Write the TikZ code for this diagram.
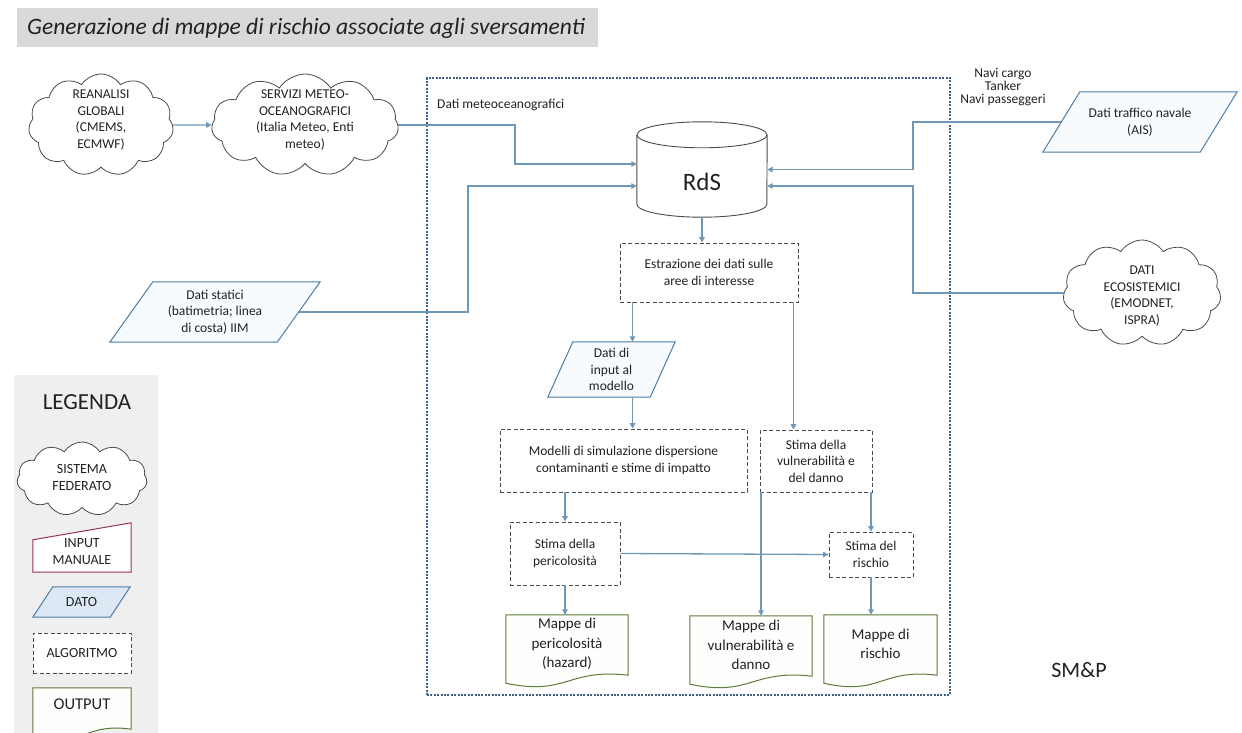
\documentclass[tikz,border=0pt]{standalone}
\usepackage{fontspec}
\setmainfont{Carlito}
\usetikzlibrary{shapes.symbols,arrows.meta,calc}

\definecolor{arrowblue}{HTML}{6F98B8}
\definecolor{frameblue}{HTML}{3E6189}
\definecolor{datoblue}{HTML}{4D7DA6}
\definecolor{datofill}{HTML}{F8FBFE}
\definecolor{datofilldark}{HTML}{DCE8F4}
\definecolor{algogrey}{HTML}{4A4A4A}
\definecolor{outgreen}{HTML}{5E7A3C}
\definecolor{outfill}{HTML}{FEFEFC}
\definecolor{manred}{HTML}{9E3350}
\definecolor{titlegrey}{HTML}{D9D9D9}
\definecolor{legendgrey}{HTML}{EFEFEF}
\definecolor{inkgrey}{HTML}{222222}

\tikzset{
  arr/.style={draw=arrowblue, line width=1.3pt, -{Triangle[length=5.5pt,width=5.5pt]}},
  algo/.style={draw=algogrey, line width=0.9pt, dash pattern=on 4pt off 2.5pt,
    fill=white, align=center, inner sep=0pt},
  cloudbox/.style={cloud, cloud puffs=11, cloud puff arc=115, draw=algogrey,
    line width=0.8pt, fill=white, inner sep=0pt},
  txt/.style={align=center, inner sep=0pt},
  datoline/.style={draw=datoblue, line width=1pt, fill=datofill},
  docline/.style={draw=outgreen, line width=1pt, fill=outfill},
  cyl/.style={draw=algogrey, line width=0.9pt},
  framebox/.style={draw=frameblue, dash pattern=on 2pt off 1.4pt, line width=2pt,
    inner sep=0pt},
  doctext/.style={align=center, inner sep=0pt, font=\fontsize{15}{19.5}\selectfont},
  legtext/.style={align=center, inner sep=0pt, font=\fontsize{14}{17}\selectfont},
}

% parallelogram for data items: name, centre, width, height, slant, text
\newcommand\datoshape[7][datofill]{%
  \node[minimum width=#4pt, minimum height=#5pt, inner sep=0pt] (#2) at (#3) {};
  \draw[datoline, fill=#1] (#2.south west) -- ($(#2.north west)+(#6,0)$)
    -- (#2.north east) -- ($(#2.south east)+(-#6,0)$) -- cycle;
  \coordinate (#2-l) at ($(#2.west)+(#6/2,0)$);
  \coordinate (#2-r) at ($(#2.east)+(-#6/2,0)$);
  \node[txt] (#2-t) at (#2.center) {#7};
}

% document shape with wavy bottom: name, centre, width, height
\newcommand\outdoc[4]{%
  \node[minimum width=#3pt, minimum height=#4pt, inner sep=0pt] (#1) at (#2) {};
  \draw[docline] (#1.north west) -- (#1.north east) -- ($(#1.south east)+(0,-11)$)
    .. controls ($(#1.south)+(0,-18)$) and ($(#1.south)+(0,10)$) ..
    ($(#1.south west)+(0,-3)$) -- cycle;
}

\begin{document}
\begin{tikzpicture}[x=1pt, y=-1pt, font=\fontsize{13.5}{16.5}\selectfont, text=inkgrey]
\useasboundingbox (0,0) rectangle (1242,733);
\fill[white] (0,0) rectangle (1242,733);

% title bar
\node[fill=titlegrey, minimum width=581pt, minimum height=39pt, inner sep=0pt] (titlebar) at (307.5,28) {};
\node[anchor=west, inner sep=0pt, font=\fontsize{23.5}{27}\selectfont\itshape] (title) at (27,28)
  {Generazione di mappe di rischio associate agli sversamenti};

% dotted system frame
\node[framebox, minimum width=523pt, minimum height=617pt] (frame) at (688.5,386.5) {};
\node[anchor=west, inner sep=0pt] (meteolabel) at (437,105) {Dati meteoceanografici};

% external federated systems
\node[cloudbox, minimum width=145pt, minimum height=102pt] (reanal) at (101,125) {};
\node[txt] (reanal-t) at (101,120) {REANALISI\\GLOBALI\\(CMEMS,\\ECMWF)};
\node[cloudbox, minimum width=187pt, minimum height=102pt] (meteo) at (305,125) {};
\node[txt] (meteo-t) at (305,120) {SERVIZI METEO-\\OCEANOGRAFICI\\(Italia Meteo, Enti\\meteo)};
\node[cloudbox, minimum width=158pt, minimum height=106pt] (eco) at (1142,293) {};
\node[txt] (eco-t) at (1142,296) {DATI\\ECOSISTEMICI\\(EMODNET,\\ISPRA)};

% data inputs
\datoshape{static}{215,312}{210}{60}{43}{Dati statici\\(batimetria; linea\\di costa) IIM}
\datoshape{ais}{1140,122}{194}{60}{37}{Dati traffico navale\\(AIS)}
\node[txt, font=\fontsize{13.5}{13}\selectfont] (navi) at (1003,87) {Navi cargo\\Tanker\\Navi passeggeri};

% central repository
\node[minimum width=130pt, minimum height=95pt, inner sep=0pt] (rds) at (702,169.5) {};
\fill[white] ($(rds.north west)+(0,13)$) -- ($(rds.south west)+(0,-13)$)
  arc[start angle=180, end angle=360, x radius=65pt, y radius=13pt]
  -- ($(rds.north east)+(0,13)$) -- cycle;
\draw[cyl] ($(rds.north west)+(0,13)$) -- ($(rds.south west)+(0,-13)$)
  arc[start angle=180, end angle=360, x radius=65pt, y radius=13pt]
  -- ($(rds.north east)+(0,13)$);
\draw[cyl, fill=white] ($(rds.north)+(0,13)$) ellipse [x radius=65pt, y radius=13pt];
\node[txt, font=\fontsize{25}{28}\selectfont] (rds-t) at (702,182) {RdS};

% processing chain
\node[algo, minimum width=178pt, minimum height=59pt] (estr) at (709,272.5)
  {Estrazione dei dati sulle\\aree di interesse};
\datoshape{input}{611.5,369.5}{127}{55}{25}{Dati di\\input al\\modello}
\node[algo, minimum width=247pt, minimum height=63pt] (modelli) at (623.5,460.5)
  {Modelli di simulazione dispersione\\contaminanti e stime di impatto};
\node[algo, minimum width=112pt, minimum height=62pt] (vuln) at (816,461)
  {Stima della\\vulnerabilità e\\del danno};
\node[algo, minimum width=110pt, minimum height=63pt] (peric) at (565,553.5)
  {Stima della\\pericolosità};
\node[algo, minimum width=84pt, minimum height=45pt] (rischio) at (871,554.5)
  {Stima del\\rischio};

% output maps
\outdoc{mappeP}{567,650.5}{122}{71}
\node[doctext] (mappeP-t) at (567,644) {Mappe di\\pericolosità\\(hazard)};
\outdoc{mappeV}{751,651.5}{122}{71}
\node[doctext] (mappeV-t) at (751,645) {Mappe di\\vulnerabilità e\\danno};
\outdoc{mappeR}{880.5,650.5}{113}{71}
\node[doctext] (mappeR-t) at (880.5,644) {Mappe di\\rischio};

\node[txt, font=\fontsize{22}{25}\selectfont] (smp) at (1079,670) {SM\&P};

% connectors
\coordinate (rdsL1) at ([yshift=5.5pt]rds.west);
\coordinate (rdsL2) at ([yshift=-16.5pt]rds.west);
\coordinate (rdsR2) at ([yshift=-16.5pt]rds.east);
\coordinate (bendA) at (515,0);
\coordinate (bendB) at (468,0);
\coordinate (bendC) at (913,0);
\draw[arr] (reanal.east) -- (meteo.west);
\draw[arr] (meteo.east) -| (bendA |- rdsL1) -- (rdsL1);
\draw[arr] (static-r) -| (bendB |- rdsL2) -- (rdsL2);
\draw[arr] (ais-l) -| (bendC |- rds.east) -- (rds.east);
\draw[arr] (eco.west) -| (bendC |- rdsR2) -- (rdsR2);

\coordinate (estrA) at ([xshift=13pt]estr.south west);
\coordinate (estrB) at ([xshift=-5pt]estr.south east);
\coordinate (vulnA) at ([xshift=1.5pt]vuln.south west);
\draw[arr] (rds.south) -- (rds.south |- estr.north);
\draw[arr] (estrA) -- (estrA |- input.north);
\draw[arr] (estrB) -- (estrB |- vuln.north);
\draw[arr] (estrA |- input.south) -- (estrA |- modelli.north);
\draw[arr] (peric.north |- modelli.south) -- (peric.north);
\draw[arr] (peric.east) -- (rischio.west);
\draw[arr] (rischio.north |- vuln.south) -- (rischio.north);
\draw[arr] (vulnA) -- (vulnA |- mappeV.north);
\draw[arr] (peric.south) -- (peric.south |- mappeP.north);
\draw[arr] (rischio.south) -- (rischio.south |- mappeR.north);

% legend
\node[fill=legendgrey, minimum width=144pt, minimum height=358pt, inner sep=0pt] (legendbg) at (86,554) {};
\node[txt, font=\fontsize{23}{26}\selectfont] (legendtitle) at (87,402) {LEGENDA};
\node[cloudbox, minimum width=130pt, minimum height=74pt] (legcloud) at (82,479) {};
\node[legtext] (legcloud-t) at (82,478) {SISTEMA\\FEDERATO};
\node[minimum width=98pt, minimum height=49pt, inner sep=0pt] (legmanual) at (82,547.5) {};
\draw[draw=manred, line width=1pt, fill=white] (legmanual.south west) -- ($(legmanual.north west)+(0,17)$)
  -- (legmanual.north east) -- (legmanual.south east) -- cycle;
\node[legtext] (legmanual-t) at (82,552) {INPUT\\MANUALE};
\datoshape[datofilldark]{legdato}{81.5,602}{97}{30}{20}{\fontsize{14}{17}\selectfont DATO}
\node[algo, minimum width=98pt, minimum height=40pt, font=\fontsize{14}{17}\selectfont] (legalgo) at (82,653) {ALGORITMO};
\outdoc{legout}{82,714}{98}{52}
\node[txt, font=\fontsize{16.5}{19}\selectfont] (legout-t) at (82,704) {OUTPUT};
\end{tikzpicture}
\end{document}
